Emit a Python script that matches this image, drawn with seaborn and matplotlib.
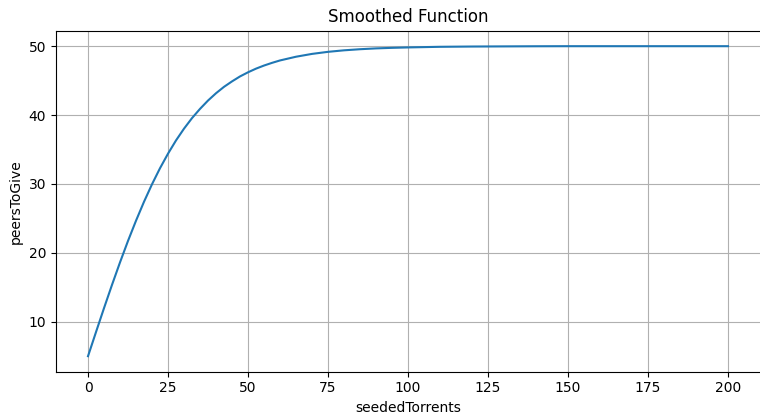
import matplotlib
matplotlib.use("Agg")
import matplotlib.pyplot as plt
import seaborn as sns
import pandas as pd

seeded_torrents = [0, 2.5, 5, 7.5, 10, 12.5, 15, 17.5, 20, 22.5, 25, 27.5, 30, 32.5, 35, 37.5, 40,
                   42.5, 45, 47.5, 50, 52.5, 55, 57.5, 60, 65, 70, 75, 80, 85, 90, 95, 100,
                   110, 120, 130, 140, 150, 160, 170, 180, 190, 200]
peers_to_give = [5.0, 8.51, 11.98, 15.36, 18.62, 21.74, 24.67, 27.42, 29.96, 32.29, 34.40, 36.32,
                 38.03, 39.56, 40.90, 42.11, 43.17, 44.10, 44.89, 45.61, 46.21, 46.74, 47.19, 47.58,
                 47.93, 48.47, 48.88, 49.18, 49.40, 49.56, 49.68, 49.76, 49.82,
                 49.91, 49.95, 49.97, 49.99, 50.0, 50.0, 50.0, 50.0, 50.0, 50.0]

df = pd.DataFrame({"seededTorrents": seeded_torrents, "peersToGive": peers_to_give})

fig = plt.figure(figsize=(7.6, 4.13), dpi=100)
ax = fig.add_axes([0.0737, 0.100, 0.9263, 0.8257])
sns.lineplot(data=df, x="seededTorrents", y="peersToGive", ax=ax, color="#1f77b4", linewidth=1.5)
ax.set_xlim(-10, 210)
ax.spines["right"].set_visible(False)
ax.set_title("Smoothed Function", fontsize=12)
ax.set_xlabel("seededTorrents")
ax.set_ylabel("peersToGive")
ax.set_xticks([0, 25, 50, 75, 100, 125, 150, 175, 200])
ax.set_yticks([10, 20, 30, 40, 50])
ax.grid(True, color="#b0b0b0", linewidth=0.8)
fig.savefig("out.png", dpi=100)
